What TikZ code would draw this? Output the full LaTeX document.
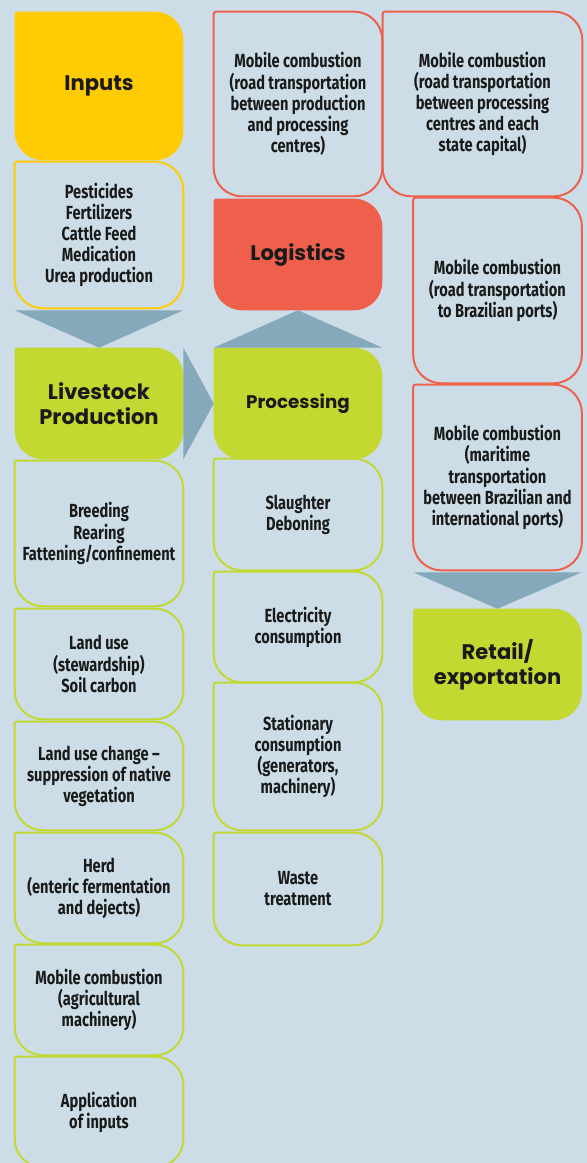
\documentclass[tikz,border=0pt]{standalone}
\usepackage{fontspec}
\usepackage{xcolor}
\usetikzlibrary{backgrounds}
\newfontfamily\bodyfont{Fira Sans}[FakeStretch=0.77,Ligatures=TeX]
\newfontfamily\headfont{Poppins}
\definecolor{panelblue}{HTML}{CCDDE7}
\definecolor{inputyellow}{HTML}{FFCB05}
\definecolor{logisticsred}{HTML}{EE604B}
\definecolor{stagegreen}{HTML}{C3D831}
\definecolor{flowblue}{HTML}{85A8BB}
\definecolor{inkblack}{HTML}{1A1A1A}

\begin{document}
\begin{tikzpicture}[
  x=1cm,y=1cm,
  card/.style={rectangle,inner sep=0pt,minimum width=4.2cm,align=center,
    text=inkblack,font=\bodyfont\bfseries\fontsize{13.5}{15}\selectfont},
  stage/.style={card,font=\headfont\bfseries\fontsize{15}{18}\selectfont},
  cardshape/.style={insert path={[rounded corners=1.5pt] (#1.west) --
    (#1.north west) -- (#1.north) [rounded corners=20pt] -- (#1.north east) --
    (#1.south east) -- (#1.south west) -- cycle}},
  yellowline/.style={draw=inputyellow,line width=1.4pt},
  redline/.style={draw=logisticsred,line width=1.4pt},
  greenline/.style={draw=stagegreen,line width=1.4pt},
  flow/.style={fill=flowblue}
]
\useasboundingbox (0,0) rectangle (14.675,29.075);

% livestock column
\node[stage,minimum height=3.7cm] (inputs) at (2.475,26.925) {Inputs};
\node[card,minimum height=3.65cm] (pest) at (2.475,23.2)
  {Pesticides\\Fertilizers\\Cattle Feed\\Medication\\Urea production};
\node[stage,minimum height=2.775cm] (livestock) at (2.475,18.9875)
  {Livestock\\Production};
\node[card,minimum height=3.625cm] (breeding) at (2.475,15.7375)
  {Breeding\\Rearing\\Fattening/confinement};
\node[card,minimum height=2.75cm] (landuse) at (2.475,12.475)
  {Land use\\(stewardship)\\Soil carbon};
\node[card,minimum height=2.7cm] (luc) at (2.475,9.675)
  {Land use change --\\suppression of native\\vegetation};
\node[card,minimum height=2.75cm] (herd) at (2.475,6.875)
  {Herd\\(enteric fermentation\\and dejects)};
\node[card,minimum height=2.75cm] (mobag) at (2.475,4.075)
  {Mobile combustion\\(agricultural\\machinery)};
\node[card,minimum height=2.75cm] (applic) at (2.475,1.275)
  {Application\\of inputs};

% processing column
\node[card,minimum height=4.6cm] (mobprod) at (7.45,26.475)
  {Mobile combustion\\(road transportation\\between production\\and processing\\centres)};
\node[stage,minimum height=2.775cm] (logistics) at (7.45,22.7125) {Logistics};
\node[stage,minimum height=2.775cm,font=\headfont\bfseries\fontsize{13}{16}\selectfont]
  (processing) at (7.45,18.9875) {Processing};
\node[card,minimum height=2.775cm] (slaughter) at (7.45,16.2125)
  {Slaughter\\Deboning};
\node[card,minimum height=2.75cm] (electricity) at (7.45,13.4)
  {Electricity\\consumption};
\node[card,minimum height=3.675cm] (stationary) at (7.45,10.1625)
  {Stationary\\consumption\\(generators,\\machinery)};
\node[card,minimum height=2.8cm] (waste) at (7.45,6.85) {Waste\\treatment};

% logistics column
\node[card,minimum height=4.6cm,minimum width=4.975cm] (mobcap) at (12.0625,26.475)
  {Mobile combustion\\(road transportation\\between processing\\centres and each\\state capital)};
\node[card,minimum height=4.625cm] (mobport) at (12.4375,21.8125)
  {Mobile combustion\\(road transportation\\to Brazilian ports)};
\node[card,minimum height=4.625cm] (maritime) at (12.4375,17.1375)
  {Mobile combustion\\(maritime\\transportation\\between Brazilian and\\international ports)};
\node[stage,minimum height=2.775cm] (retail) at (12.4375,12.4625)
  {Retail/\\exportation};

% flow arrows
\fill[flow] ([yshift=-0.05cm]pest.south west) -- ([yshift=-0.05cm]pest.south east)
  -- (livestock.north) -- cycle;
\fill[flow] (livestock.north east) -- (livestock.south east) -- (processing.west) -- cycle;
\fill[flow] (processing.north west) -- (processing.north east) -- (logistics.south) -- cycle;
\fill[flow] ([yshift=-0.05cm]maritime.south west) -- ([yshift=-0.05cm]maritime.south east)
  -- (retail.north) -- cycle;

% card outlines behind the text
\begin{scope}[on background layer]
\fill[panelblue] (0,0) rectangle (14.675,29.075);
\fill[inputyellow,cardshape=inputs];
\fill[logisticsred,cardshape=logistics];
\foreach \n in {livestock,processing,retail}
  \fill[stagegreen,cardshape=\n];
\draw[yellowline,cardshape=pest];
\foreach \n in {mobprod,mobcap,mobport,maritime}
  \draw[redline,cardshape=\n];
\foreach \n in {breeding,landuse,luc,herd,mobag,applic,slaughter,electricity,stationary,waste}
  \draw[greenline,cardshape=\n];
\end{scope}
\end{tikzpicture}
\end{document}
